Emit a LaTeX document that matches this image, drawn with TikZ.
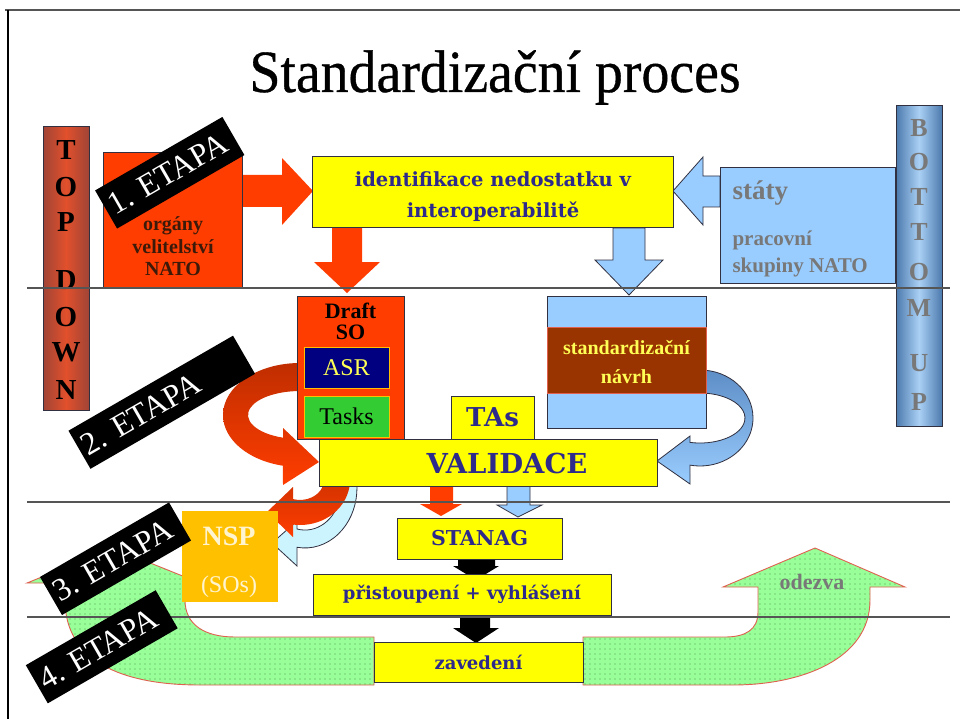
\documentclass[tikz,border=0pt]{standalone}
\usepackage{fontspec}
\setmainfont{Liberation Serif}
\newfontfamily\dvs{DejaVu Serif}
\newfontfamily\titlefont{Liberation Serif}[FakeBold=0.6]
\usetikzlibrary{patterns}
\pgfdeclarepatternformonly{gdots}{\pgfqpoint{-1pt}{-1pt}}{\pgfqpoint{1pt}{1pt}}{\pgfqpoint{5pt}{5pt}}{\pgfpathcircle{\pgfqpoint{0pt}{0pt}}{0.6pt}\pgfusepath{fill}}
\newcommand\fsz[2]{\fontsize{#1pt}{#2pt}\selectfont}
\definecolor{redor}{HTML}{FF3D00}
\definecolor{ribdark}{HTML}{C02E00}
\definecolor{navyt}{HTML}{2D2A8C}
\definecolor{lblue}{HTML}{99CCFF}
\definecolor{bldark}{HTML}{5E8EC6}
\definecolor{lcyan}{HTML}{CCF4FF}
\definecolor{ybox}{HTML}{FFFF00}
\definecolor{brownb}{HTML}{993300}
\definecolor{nspc}{HTML}{FFC000}
\definecolor{grn}{HTML}{99FF99}
\definecolor{gdot}{HTML}{4E9A4E}
\definecolor{salm}{HTML}{E06050}
\definecolor{grayt}{HTML}{787878}
\definecolor{linec}{HTML}{555555}
\definecolor{edgec}{HTML}{303040}
\definecolor{orgt}{HTML}{3C1A0A}
\definecolor{tdmid}{HTML}{E2502C}
\definecolor{tdedge}{HTML}{A04436}
\definecolor{bumid}{HTML}{AAD0F4}
\definecolor{buedge}{HTML}{4C7AAE}
\definecolor{nsptxt}{HTML}{FFF4D0}
\definecolor{asrtxt}{HTML}{FFFF55}
\definecolor{asrfill}{HTML}{000080}
\definecolor{taskfill}{HTML}{33CC33}
\begin{document}
\begin{tikzpicture}[x=1pt,y=-1pt,
  box/.style={draw=edgec, line width=1pt, inner sep=0pt},
  navyfont/.style={text=navyt, font=\dvs\bfseries\fsz{#1}{#1}},
  greenarr/.style={preaction={fill=grn}, pattern=gdots, pattern color=gdot, draw=salm, line width=0.9pt},
  etapa/.style={fill=black, text=white, rotate=30, minimum height=44pt, inner xsep=5pt, inner ysep=0pt, align=left, font=\fsz{32}{32}},
  sepline/.style={draw=linec, line width=1.4pt},
  bluearr/.style={fill=lblue, draw=edgec, line width=0.8pt},
  tdletter/.style={font=\bfseries\fsz{29}{29}, text=black},
  buletter/.style={font=\bfseries\fsz{26}{26}, text=grayt}]
\useasboundingbox (0,0) rectangle (960,719);
\fill[white] (0,0) rectangle (960,719);
% frame
\draw[draw=linec, line width=1.5pt] (5,10) -- (960,10);
\draw[draw=black, line width=1.5pt] (8,10) -- (8,719);

% green U arrow (two pieces)
\path[greenarr] (27,583) -- (113,548) -- (200,583) -- (185,583) -- (185,600)
  .. controls (185,625) and (205,637) .. (235,637) -- (374,637) -- (374,685) -- (200,685)
  .. controls (120,685) and (65,660) .. (65,600) -- (65,583) -- cycle;
\path[greenarr] (583,637) -- (725,637) .. controls (745,637) and (758,630) .. (758,612)
  -- (758,587) -- (723,587) -- (815,548) -- (905,587) -- (870,587) -- (870,600)
  .. controls (870,660) and (800,685) .. (733,685) -- (583,685) -- cycle;

% big red ribbon
\shade[top color=ribdark, bottom color=redor] (300,363) arc[start angle=270, end angle=102.8, x radius=77, y radius=52]
  -- (283,485) -- (319,462) -- (283,428) -- (283,437.7)
  arc[start angle=109.1, end angle=270, x radius=52, y radius=24] -- cycle;
% big blue ribbon
\shade[top color=bldark, bottom color=lblue, draw=edgec, line width=0.8pt] (700,370) arc[start angle=270, end angle=460.9, x radius=53, y radius=48]
  -- (690,484) -- (657,461) -- (690,436) -- (690,442.4)
  arc[start angle=462.8, end angle=270, x radius=45, y radius=25] -- cycle;
% small light blue ribbon
\path[fill=lcyan, draw=edgec, line width=0.8pt] (344.8,449.4) arc[start angle=320, end angle=458.8, x radius=52, y radius=60]
  -- (297,566) -- (272,543) -- (297,521) -- (297,529)
  arc[start angle=462.8, end angle=320, x radius=36, y radius=42] -- cycle;
% small red ribbon
\shade[top color=ribdark, bottom color=redor] (343.3,457.5) arc[start angle=330, end angle=458.05, x radius=50, y radius=45]
  -- (293,537) -- (267,512) -- (293,487) -- (293,499.1)
  arc[start angle=466.96, end angle=330, x radius=24, y radius=20] -- cycle;

% straight block arrows
\fill[redor] (242,175) -- (282,175) -- (282,158) -- (313,191) -- (282,225) -- (282,207) -- (242,207) -- cycle;
\fill[redor] (332,228) -- (362,228) -- (362,262) -- (380,262) -- (347,293) -- (314,262) -- (332,262) -- cycle;
\path[bluearr] (613,228) -- (645,228) -- (645,260) -- (663,260) -- (629,295) -- (595,260) -- (613,260) -- cycle;
\path[bluearr] (720,176) -- (703,176) -- (703,157) -- (673,191) -- (703,225) -- (703,207) -- (720,207) -- cycle;
\fill[redor] (430,486) -- (453,486) -- (453,504) -- (462,504) -- (441,516) -- (420,504) -- (430,504) -- cycle;
\path[bluearr] (507,486) -- (530,486) -- (530,505) -- (542,505) -- (518,517) -- (497,505) -- (507,505) -- cycle;
\fill[black] (458,559) -- (495,559) -- (495,566) -- (499,566) -- (476,580) -- (453,566) -- (458,566) -- cycle;
\fill[black] (460,615) -- (490,615) -- (490,628) -- (499,628) -- (476,643) -- (453,628) -- (460,628) -- cycle;

% boxes
\node[box, fill=redor, minimum width=139pt, minimum height=134pt] (org) at (172.5,220) {};
\node[font=\bfseries\fsz{20}{20}, text=orgt, anchor=base] (org1) at (173,231) {orgány};
\node[font=\bfseries\fsz{20}{20}, text=orgt, anchor=base] (org2) at (173,253) {velitelství};
\node[font=\bfseries\fsz{20}{20}, text=orgt, anchor=base] (org3) at (173,275) {NATO};

\node[box, fill=ybox, minimum width=361pt, minimum height=71pt] (ident) at (492.5,192.5) {};
\node[navyfont=19.5, anchor=base] (ident1) at (493,187) {identifikace nedostatku v};
\node[navyfont=19.5, anchor=base] (ident2) at (493,218) {interoperabilitě};

\node[box, fill=lblue, minimum width=175pt, minimum height=115pt] (staty) at (807.5,225.5) {};
\node[anchor=base west, text=grayt, font=\bfseries\fsz{27}{27}] (statyt) at (729,200) {státy};
\node[anchor=base west, text=grayt, font=\bfseries\fsz{21}{21}] (prac1) at (729,246) {pracovní};
\node[anchor=base west, text=grayt, font=\bfseries\fsz{21}{21}] (prac2) at (729,272) {skupiny NATO};

\node[box, fill=redor, minimum width=107pt, minimum height=143pt] (draft) at (350.5,367.5) {};
\node[font=\bfseries\fsz{22}{22}, anchor=base] (draft1) at (350.5,318) {Draft};
\node[font=\bfseries\fsz{22}{22}, anchor=base] (draft2) at (350.5,339) {SO};
\node[box, draw=nspc, fill=asrfill, minimum width=85pt, minimum height=41pt, text=asrtxt, font=\fsz{24}{24}] (asr) at (346.5,367.5) {ASR};
\node[box, draw=nspc, fill=taskfill, minimum width=85pt, minimum height=41pt, font=\fsz{24}{24}] (tasks) at (346.5,416.5) {Tasks};

\node[box, fill=lblue, minimum width=159pt, minimum height=132pt] (navrh) at (626.5,362) {};
\node[draw=salm, line width=0.6pt, fill=brownb, minimum width=159pt, minimum height=66pt, inner sep=0pt] (navrhband) at (626.5,360) {};
\node[text=asrtxt, font=\bfseries\fsz{20}{20}, anchor=base] (navrh1) at (626.5,354) {standardizační};
\node[text=asrtxt, font=\bfseries\fsz{20}{20}, anchor=base] (navrh2) at (626.5,383) {návrh};

\node[box, fill=ybox, minimum width=83pt, minimum height=43pt, navyfont=26] (tas) at (492.5,417.5) {TAs};
\node[box, fill=ybox, minimum width=338pt, minimum height=47pt] (valid) at (488,462.5) {};
\node[navyfont=27.5] (validtxt) at (507,463) {VALIDACE};
\node[box, fill=ybox, minimum width=165pt, minimum height=41pt, navyfont=20.5] (stanag) at (479.5,538.5) {STANAG};
\node[box, fill=ybox, minimum width=298pt, minimum height=41pt, navyfont=18] (prist) at (462,594.5) {přistoupení + vyhlášení};
\node[box, fill=ybox, minimum width=209pt, minimum height=40pt, navyfont=18] (zaved) at (478.5,662) {zavedení};

\node[fill=nspc, minimum width=96pt, minimum height=91pt, inner sep=0pt] (nsp) at (230,556.5) {};
\node[text=nsptxt, font=\bfseries\fsz{28}{28}] (nsptxt) at (229,536) {NSP};
\node[text=nsptxt, font=\fsz{24}{24}] (sostxt) at (229,587) {(SOs)};
\node[text=grayt, font=\bfseries\fsz{22}{22}] (odezva) at (812,582) {odezva};

% side bars
\node[draw=edgec, line width=1pt, left color=tdedge, right color=tdedge, middle color=tdmid, minimum width=46pt, minimum height=283pt, inner sep=0pt] (topdown) at (66,268.5) {};
\foreach \l/\yy [count=\i] in {T/150,O/187,P/222,D/280,O/317,W/352,N/390}
  \node[tdletter] (td\i) at (66,\yy) {\l};
\node[draw=edgec, line width=1pt, left color=buedge, right color=buedge, middle color=bumid, minimum width=46pt, minimum height=320pt, inner sep=0pt] (bottomup) at (919,266) {};
\foreach \l/\yy [count=\i] in {B/128,O/162,T/197,T/232,O/272,M/308,U/363,P/402}
  \node[buletter] (bu\i) at (919,\yy) {\l};

% separator lines
\draw[sepline] (27,288) -- (950,288);
\draw[sepline] (27,502) -- (950,502);
\draw[sepline] (27,617) -- (950,617);

% stage labels
\node[etapa, text width=137pt] (e1) at (169.75,172.75) {1.\ ETAPA};
\node[etapa, text width=180pt] (e2) at (161.75,402.25) {2.\ ETAPA};
\node[etapa, text width=139pt] (e3) at (115.5,558.75) {3.\ ETAPA};
\node[etapa, text width=140pt] (e4) at (101.75,646.75) {4.\ ETAPA};

% title
\node[anchor=base, font=\titlefont\fsz{60}{60}] (title) at (495,92) {\scalebox{0.93}[1]{Standardizační proces}};
\end{tikzpicture}
\end{document}
